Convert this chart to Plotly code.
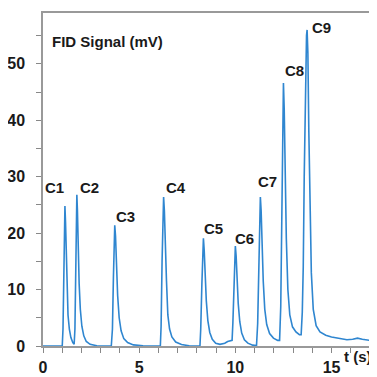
import plotly.graph_objects as go

# chromatogram trace (time in s, signal in mV), peak by peak
t = [0,
     1.00, 1.04, 1.08, 1.11, 1.14, 1.17, 1.21, 1.25, 1.30, 1.37, 1.45, 1.55, 1.62,
     1.66, 1.70, 1.73, 1.76, 1.79, 1.83, 1.88, 1.94, 2.02, 2.12, 2.25, 2.45, 2.8, 3.55,
     3.61, 3.66, 3.70, 3.73, 3.77, 3.82, 3.88, 3.96, 4.06, 4.2, 4.4, 4.7, 5.2, 6.10,
     6.14, 6.19, 6.24, 6.27, 6.31, 6.36, 6.42, 6.49, 6.58, 6.7, 6.9, 7.2, 7.6, 8.16,
     8.20, 8.26, 8.31, 8.34, 8.38, 8.43, 8.49, 8.57, 8.67, 8.8, 8.98, 9.2, 9.45, 9.6, 9.75,
     9.83, 9.87, 9.92, 9.97, 10.0, 10.04, 10.09, 10.15, 10.23, 10.33, 10.47, 10.65, 10.9, 11.1,
     11.16, 11.21, 11.26, 11.30, 11.34, 11.39, 11.45, 11.53, 11.63, 11.78, 11.98, 12.2, 12.3,
     12.36, 12.41, 12.46, 12.50, 12.54, 12.59, 12.65, 12.73, 12.83, 12.97, 13.15, 13.33, 13.42,
     13.48, 13.53, 13.58, 13.64, 13.70, 13.73, 13.77, 13.82, 13.88, 13.95, 14.05, 14.2, 14.4,
     14.7, 15.0, 15.4, 15.8, 16.1, 16.35, 16.6, 17.0]
signal = [0,
          0, 3, 14, 22, 24.8, 22, 15, 10, 5.5, 3, 1.5, 0.6, 0.3,
          3, 14, 24, 26.8, 24, 17, 11, 6.5, 3.5, 1.8, 0.8, 0.3, 0.05, 0,
          3, 12, 19.5, 21.4, 19.5, 14, 9, 5, 2.7, 1.3, 0.6, 0.2, 0.05, 0,
          3.5, 15, 24, 26.4, 24, 17, 11.5, 5.5, 3, 1.6, 0.7, 0.25, 0.05, 0,
          3, 11, 17.5, 19.1, 17, 12, 8, 4.5, 2.4, 1.2, 0.5, 0.3, 0.5, 0.8, 0.9,
          1.0, 4, 11, 16.5, 17.7, 16, 11.5, 7.5, 4.3, 2.3, 1.1, 0.5, 0.15, 0.1,
          4, 15, 24, 26.4, 24, 17, 11.5, 6.5, 3.8, 2.2, 1.4, 1.0, 1.0,
          7, 26, 42, 46.6, 42, 30, 19, 10, 5.5, 3.4, 2.5, 2.0, 2.0,
          6, 14, 30, 47, 55, 56, 52, 38, 24, 13, 6.5, 3.6, 2.5,
          1.9, 1.6, 1.3, 1.1, 1.2, 1.4, 1.2, 1.0]

peak_names = ["C1", "C2", "C3", "C4", "C5", "C6", "C7", "C8", "C9"]
label_t = [0.62, 2.44, 4.3, 6.9, 8.86, 10.5, 11.66, 13.06, 14.5]
label_y = [28.0, 28.0, 22.9, 28.0, 20.9, 19.0, 29.1, 48.8, 56.4]

font = "Liberation Sans, Arial, sans-serif"
ink = "#1a1a1a"

fig = go.Figure()
fig.add_trace(go.Scatter(x=t, y=signal, mode="lines",
                         line=dict(color="#2f86d0", width=1.6), hoverinfo="skip"))

for name, x, y in zip(peak_names, label_t, label_y):
    fig.add_annotation(x=x, y=y, text=name, showarrow=False,
                       font=dict(family=font, size=15, color=ink, weight="bold"))

fig.add_annotation(xref="paper", yref="paper", x=0.021, y=0.946, xanchor="left",
                   text="FID Signal (mV)", showarrow=False,
                   font=dict(family=font, size=15, color=ink, weight="bold"))
fig.add_annotation(xref="paper", yref="paper", x=1.012, y=-0.062, xanchor="right",
                   text="t (s)", showarrow=False,
                   font=dict(family=font, size=15, color=ink, weight="bold"))

fig.update_xaxes(range=[0, 17], tickvals=[0, 5, 10, 15], ticks="outside", ticklen=5,
                 tickcolor="#888", minor=dict(dtick=1, ticks="outside", ticklen=5, tickcolor="#888"),
                 showline=True, linecolor="#999", linewidth=1.5, mirror=True,
                 showgrid=False, zeroline=False, automargin=False, ticklabelstandoff=1,
                 tickfont=dict(family=font, size=16, color=ink, weight="bold"))
fig.update_yaxes(range=[0, 59], tickvals=[0, 10, 20, 30, 40, 50], ticks="outside", ticklen=5,
                 tickcolor="#888", minor=dict(dtick=5, ticks="outside", ticklen=5, tickcolor="#888"),
                 showline=True, linecolor="#999", linewidth=1.5, mirror=True,
                 showgrid=False, zeroline=False, automargin=False, ticklabelstandoff=8,
                 tickfont=dict(family=font, size=16, color=ink, weight="bold"))

# page has ~8px body margin, so the figure is kept a bit smaller than the window
fig.update_layout(width=369, height=369, margin=dict(l=35, r=7, t=5, b=31),
                  plot_bgcolor="white", paper_bgcolor="white", showlegend=False)

fig.write_html("out.html")
